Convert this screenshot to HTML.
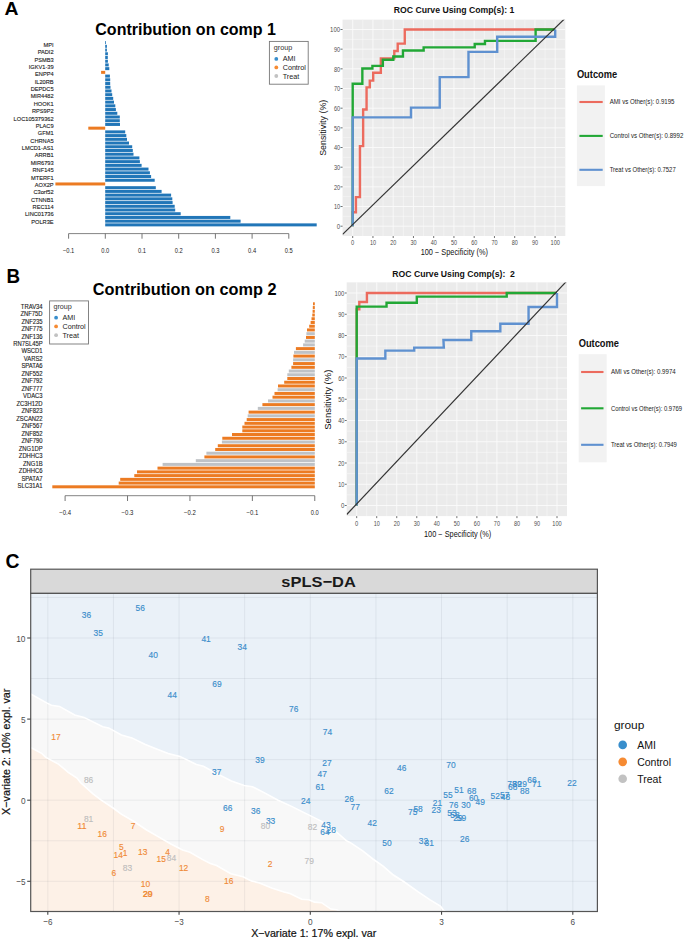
<!DOCTYPE html>
<html><head><meta charset="utf-8"><style>
html,body{margin:0;padding:0;background:#fff;}
svg{display:block;font-family:"Liberation Sans", sans-serif;}
</style></head><body>
<svg width="685" height="941" viewBox="0 0 685 941">
<rect width="685" height="941" fill="#fff"/>
<text x="4.60" y="15.40" font-size="17.5" text-anchor="start" fill="#000" font-weight="bold" textLength="14.00" lengthAdjust="spacingAndGlyphs">A</text>
<text x="6.60" y="283.20" font-size="20.2" text-anchor="start" fill="#000" font-weight="bold" textLength="13.60" lengthAdjust="spacingAndGlyphs">B</text>
<text x="5.50" y="567.80" font-size="19.5" text-anchor="start" fill="#000" font-weight="bold" textLength="14.00" lengthAdjust="spacingAndGlyphs">C</text>
<text x="95.30" y="34.60" font-size="16.9" text-anchor="start" fill="#000" font-weight="bold" textLength="180.70" lengthAdjust="spacingAndGlyphs">Contribution on comp 1</text>
<rect x="105.20" y="41.10" width="0.80" height="3.00" fill="#2176b8"/>
<rect x="105.20" y="44.82" width="1.70" height="3.00" fill="#2176b8"/>
<rect x="105.20" y="48.54" width="1.70" height="3.00" fill="#2176b8"/>
<rect x="105.20" y="52.26" width="2.70" height="3.00" fill="#2176b8"/>
<rect x="105.20" y="55.98" width="2.60" height="3.00" fill="#2176b8"/>
<rect x="105.20" y="59.70" width="2.70" height="3.00" fill="#2176b8"/>
<rect x="105.20" y="63.42" width="3.50" height="3.00" fill="#2176b8"/>
<rect x="105.20" y="67.14" width="4.10" height="3.00" fill="#2176b8"/>
<rect x="101.10" y="70.86" width="4.10" height="3.00" fill="#ec7b22"/>
<rect x="105.20" y="74.58" width="4.70" height="3.00" fill="#2176b8"/>
<rect x="105.20" y="78.30" width="5.00" height="3.00" fill="#2176b8"/>
<rect x="105.20" y="82.02" width="5.00" height="3.00" fill="#2176b8"/>
<rect x="105.20" y="85.74" width="5.30" height="3.00" fill="#2176b8"/>
<rect x="105.20" y="89.46" width="6.30" height="3.00" fill="#2176b8"/>
<rect x="105.20" y="93.18" width="7.00" height="3.00" fill="#2176b8"/>
<rect x="105.20" y="96.90" width="8.00" height="3.00" fill="#2176b8"/>
<rect x="105.20" y="100.62" width="8.80" height="3.00" fill="#2176b8"/>
<rect x="105.20" y="104.34" width="10.10" height="3.00" fill="#2176b8"/>
<rect x="105.20" y="108.06" width="10.70" height="3.00" fill="#2176b8"/>
<rect x="105.20" y="111.78" width="12.10" height="3.00" fill="#2176b8"/>
<rect x="105.20" y="115.50" width="14.60" height="3.00" fill="#2176b8"/>
<rect x="105.20" y="119.22" width="14.60" height="3.00" fill="#2176b8"/>
<rect x="105.20" y="122.94" width="14.80" height="3.00" fill="#2176b8"/>
<rect x="88.30" y="126.66" width="16.90" height="3.00" fill="#ec7b22"/>
<rect x="105.20" y="130.38" width="20.00" height="3.00" fill="#2176b8"/>
<rect x="105.20" y="134.10" width="21.10" height="3.00" fill="#2176b8"/>
<rect x="105.20" y="137.82" width="21.80" height="3.00" fill="#2176b8"/>
<rect x="105.20" y="141.54" width="23.80" height="3.00" fill="#2176b8"/>
<rect x="105.20" y="145.26" width="27.00" height="3.00" fill="#2176b8"/>
<rect x="105.20" y="148.98" width="27.60" height="3.00" fill="#2176b8"/>
<rect x="105.20" y="152.70" width="28.30" height="3.00" fill="#2176b8"/>
<rect x="105.20" y="156.42" width="34.20" height="3.00" fill="#2176b8"/>
<rect x="105.20" y="160.14" width="34.70" height="3.00" fill="#2176b8"/>
<rect x="105.20" y="163.86" width="36.40" height="3.00" fill="#2176b8"/>
<rect x="105.20" y="167.58" width="43.30" height="3.00" fill="#2176b8"/>
<rect x="105.20" y="171.30" width="44.70" height="3.00" fill="#2176b8"/>
<rect x="105.20" y="175.02" width="45.90" height="3.00" fill="#2176b8"/>
<rect x="105.20" y="178.74" width="49.50" height="3.00" fill="#2176b8"/>
<rect x="55.40" y="182.46" width="49.80" height="3.00" fill="#ec7b22"/>
<rect x="105.20" y="186.18" width="50.60" height="3.00" fill="#2176b8"/>
<rect x="105.20" y="189.90" width="56.40" height="3.00" fill="#2176b8"/>
<rect x="105.20" y="193.62" width="65.90" height="3.00" fill="#2176b8"/>
<rect x="105.20" y="197.34" width="67.10" height="3.00" fill="#2176b8"/>
<rect x="105.20" y="201.06" width="67.40" height="3.00" fill="#2176b8"/>
<rect x="105.20" y="204.78" width="69.50" height="3.00" fill="#2176b8"/>
<rect x="105.20" y="208.50" width="70.00" height="3.00" fill="#2176b8"/>
<rect x="105.20" y="212.22" width="75.50" height="3.00" fill="#2176b8"/>
<rect x="105.20" y="215.94" width="125.10" height="3.00" fill="#2176b8"/>
<rect x="105.20" y="219.66" width="135.40" height="3.00" fill="#2176b8"/>
<rect x="105.20" y="223.38" width="211.50" height="3.00" fill="#2176b8"/>
<g transform="translate(53.6 0) scale(0.93 1) translate(-53.6 0)" stroke="#1a1a1a" stroke-width="0.12">
<text x="53.60" y="46.85" font-size="6.1" text-anchor="end" fill="#1a1a1a">MPI</text>
<text x="53.60" y="54.23" font-size="6.1" text-anchor="end" fill="#1a1a1a">PADI2</text>
<text x="53.60" y="61.60" font-size="6.1" text-anchor="end" fill="#1a1a1a">PSMB3</text>
<text x="53.60" y="68.98" font-size="6.1" text-anchor="end" fill="#1a1a1a">IGKV1-39</text>
<text x="53.60" y="76.35" font-size="6.1" text-anchor="end" fill="#1a1a1a">ENPP4</text>
<text x="53.60" y="83.73" font-size="6.1" text-anchor="end" fill="#1a1a1a">IL20RB</text>
<text x="53.60" y="91.10" font-size="6.1" text-anchor="end" fill="#1a1a1a">DEPDC5</text>
<text x="53.60" y="98.48" font-size="6.1" text-anchor="end" fill="#1a1a1a">MIR4482</text>
<text x="53.60" y="105.85" font-size="6.1" text-anchor="end" fill="#1a1a1a">HOOK1</text>
<text x="53.60" y="113.23" font-size="6.1" text-anchor="end" fill="#1a1a1a">RPS9P2</text>
<text x="53.60" y="120.60" font-size="6.1" text-anchor="end" fill="#1a1a1a">LOC105379362</text>
<text x="53.60" y="127.98" font-size="6.1" text-anchor="end" fill="#1a1a1a">PLAC9</text>
<text x="53.60" y="135.35" font-size="6.1" text-anchor="end" fill="#1a1a1a">GFM1</text>
<text x="53.60" y="142.72" font-size="6.1" text-anchor="end" fill="#1a1a1a">CHRNA5</text>
<text x="53.60" y="150.10" font-size="6.1" text-anchor="end" fill="#1a1a1a">LMCD1-AS1</text>
<text x="53.60" y="157.47" font-size="6.1" text-anchor="end" fill="#1a1a1a">ARRB1</text>
<text x="53.60" y="164.85" font-size="6.1" text-anchor="end" fill="#1a1a1a">MIR6793</text>
<text x="53.60" y="172.22" font-size="6.1" text-anchor="end" fill="#1a1a1a">RNF145</text>
<text x="53.60" y="179.60" font-size="6.1" text-anchor="end" fill="#1a1a1a">MTERF1</text>
<text x="53.60" y="186.97" font-size="6.1" text-anchor="end" fill="#1a1a1a">AOX2P</text>
<text x="53.60" y="194.35" font-size="6.1" text-anchor="end" fill="#1a1a1a">C3orf52</text>
<text x="53.60" y="201.72" font-size="6.1" text-anchor="end" fill="#1a1a1a">CTNNB1</text>
<text x="53.60" y="209.10" font-size="6.1" text-anchor="end" fill="#1a1a1a">REC114</text>
<text x="53.60" y="216.47" font-size="6.1" text-anchor="end" fill="#1a1a1a">LINC01736</text>
<text x="53.60" y="223.85" font-size="6.1" text-anchor="end" fill="#1a1a1a">POLR3E</text>
</g>
<line x1="68.60" y1="233.60" x2="288.80" y2="233.60" stroke="#777" stroke-width="0.9"/>
<line x1="68.60" y1="233.60" x2="68.60" y2="238.70" stroke="#666" stroke-width="0.9"/>
<text x="68.60" y="253.20" font-size="6.4" text-anchor="middle" fill="#222" textLength="11.40" lengthAdjust="spacingAndGlyphs">−0.1</text>
<line x1="105.30" y1="233.60" x2="105.30" y2="238.70" stroke="#666" stroke-width="0.9"/>
<text x="105.30" y="253.20" font-size="6.4" text-anchor="middle" fill="#222" textLength="8.00" lengthAdjust="spacingAndGlyphs">0.0</text>
<line x1="142.00" y1="233.60" x2="142.00" y2="238.70" stroke="#666" stroke-width="0.9"/>
<text x="142.00" y="253.20" font-size="6.4" text-anchor="middle" fill="#222" textLength="8.00" lengthAdjust="spacingAndGlyphs">0.1</text>
<line x1="178.70" y1="233.60" x2="178.70" y2="238.70" stroke="#666" stroke-width="0.9"/>
<text x="178.70" y="253.20" font-size="6.4" text-anchor="middle" fill="#222" textLength="8.00" lengthAdjust="spacingAndGlyphs">0.2</text>
<line x1="215.40" y1="233.60" x2="215.40" y2="238.70" stroke="#666" stroke-width="0.9"/>
<text x="215.40" y="253.20" font-size="6.4" text-anchor="middle" fill="#222" textLength="8.00" lengthAdjust="spacingAndGlyphs">0.3</text>
<line x1="252.10" y1="233.60" x2="252.10" y2="238.70" stroke="#666" stroke-width="0.9"/>
<text x="252.10" y="253.20" font-size="6.4" text-anchor="middle" fill="#222" textLength="8.00" lengthAdjust="spacingAndGlyphs">0.4</text>
<line x1="288.80" y1="233.60" x2="288.80" y2="238.70" stroke="#666" stroke-width="0.9"/>
<text x="288.80" y="253.20" font-size="6.4" text-anchor="middle" fill="#222" textLength="8.00" lengthAdjust="spacingAndGlyphs">0.5</text>
<rect x="269.40" y="41.40" width="38.80" height="42.80" fill="#fff" stroke="#777" stroke-width="0.9"/>
<text x="273.80" y="50.40" font-size="7.2" text-anchor="start" fill="#333">group</text>
<circle cx="276.3" cy="58.90" r="1.9" fill="#388ECC"/>
<text x="282.70" y="61.40" font-size="7.2" text-anchor="start" fill="#222">AMI</text>
<circle cx="276.3" cy="67.45" r="1.9" fill="#F68B33"/>
<text x="282.70" y="69.95" font-size="7.2" text-anchor="start" fill="#222">Control</text>
<circle cx="276.3" cy="76.00" r="1.9" fill="#C2C2C2"/>
<text x="282.70" y="78.50" font-size="7.2" text-anchor="start" fill="#222">Treat</text>
<text x="92.80" y="295.00" font-size="16.9" text-anchor="start" fill="#000" font-weight="bold" textLength="183.70" lengthAdjust="spacingAndGlyphs">Contribution on comp 2</text>
<rect x="313.00" y="302.30" width="1.80" height="3.00" fill="#ec7b22"/>
<rect x="312.80" y="306.04" width="2.00" height="3.00" fill="#ec7b22"/>
<rect x="312.60" y="309.77" width="2.20" height="3.00" fill="#ec7b22"/>
<rect x="312.30" y="313.50" width="2.50" height="3.00" fill="#ec7b22"/>
<rect x="311.50" y="317.24" width="3.30" height="3.00" fill="#ec7b22"/>
<rect x="310.60" y="320.98" width="4.20" height="3.00" fill="#ec7b22"/>
<rect x="309.20" y="324.71" width="5.60" height="3.00" fill="#ec7b22"/>
<rect x="307.00" y="328.44" width="7.80" height="3.00" fill="#ec7b22"/>
<rect x="306.40" y="332.18" width="8.40" height="3.00" fill="#bfc2c6"/>
<rect x="306.00" y="335.92" width="8.80" height="3.00" fill="#ec7b22"/>
<rect x="304.70" y="339.65" width="10.10" height="3.00" fill="#bfc2c6"/>
<rect x="303.10" y="343.38" width="11.70" height="3.00" fill="#bfc2c6"/>
<rect x="295.90" y="347.12" width="18.90" height="3.00" fill="#ec7b22"/>
<rect x="294.00" y="350.86" width="20.80" height="3.00" fill="#bfc2c6"/>
<rect x="293.40" y="354.59" width="21.40" height="3.00" fill="#ec7b22"/>
<rect x="293.10" y="358.32" width="21.70" height="3.00" fill="#bfc2c6"/>
<rect x="293.10" y="362.06" width="21.70" height="3.00" fill="#ec7b22"/>
<rect x="291.40" y="365.80" width="23.40" height="3.00" fill="#ec7b22"/>
<rect x="288.80" y="369.53" width="26.00" height="3.00" fill="#bfc2c6"/>
<rect x="287.30" y="373.26" width="27.50" height="3.00" fill="#bfc2c6"/>
<rect x="287.30" y="377.00" width="27.50" height="3.00" fill="#ec7b22"/>
<rect x="284.20" y="380.74" width="30.60" height="3.00" fill="#ec7b22"/>
<rect x="278.00" y="384.47" width="36.80" height="3.00" fill="#ec7b22"/>
<rect x="277.60" y="388.21" width="37.20" height="3.00" fill="#bfc2c6"/>
<rect x="274.50" y="391.94" width="40.30" height="3.00" fill="#ec7b22"/>
<rect x="272.50" y="395.68" width="42.30" height="3.00" fill="#ec7b22"/>
<rect x="268.00" y="399.41" width="46.80" height="3.00" fill="#bfc2c6"/>
<rect x="262.40" y="403.14" width="52.40" height="3.00" fill="#ec7b22"/>
<rect x="257.80" y="406.88" width="57.00" height="3.00" fill="#bfc2c6"/>
<rect x="248.60" y="410.62" width="66.20" height="3.00" fill="#ec7b22"/>
<rect x="247.70" y="414.35" width="67.10" height="3.00" fill="#bfc2c6"/>
<rect x="246.70" y="418.09" width="68.10" height="3.00" fill="#ec7b22"/>
<rect x="244.50" y="421.82" width="70.30" height="3.00" fill="#ec7b22"/>
<rect x="242.30" y="425.56" width="72.50" height="3.00" fill="#ec7b22"/>
<rect x="242.30" y="429.29" width="72.50" height="3.00" fill="#ec7b22"/>
<rect x="232.00" y="433.02" width="82.80" height="3.00" fill="#ec7b22"/>
<rect x="222.30" y="436.76" width="92.50" height="3.00" fill="#ec7b22"/>
<rect x="221.90" y="440.50" width="92.90" height="3.00" fill="#bfc2c6"/>
<rect x="217.80" y="444.23" width="97.00" height="3.00" fill="#ec7b22"/>
<rect x="215.20" y="447.97" width="99.60" height="3.00" fill="#ec7b22"/>
<rect x="206.40" y="451.70" width="108.40" height="3.00" fill="#bfc2c6"/>
<rect x="204.40" y="455.44" width="110.40" height="3.00" fill="#ec7b22"/>
<rect x="195.80" y="459.17" width="119.00" height="3.00" fill="#bfc2c6"/>
<rect x="162.60" y="462.90" width="152.20" height="3.00" fill="#bfc2c6"/>
<rect x="157.50" y="466.64" width="157.30" height="3.00" fill="#ec7b22"/>
<rect x="137.00" y="470.38" width="177.80" height="3.00" fill="#ec7b22"/>
<rect x="134.30" y="474.11" width="180.50" height="3.00" fill="#ec7b22"/>
<rect x="120.20" y="477.85" width="194.60" height="3.00" fill="#ec7b22"/>
<rect x="118.70" y="481.58" width="196.10" height="3.00" fill="#ec7b22"/>
<rect x="52.30" y="485.31" width="262.50" height="3.00" fill="#ec7b22"/>
<g transform="translate(42.6 0) scale(0.92 1) translate(-42.6 0)" stroke="#1a1a1a" stroke-width="0.12">
<text x="42.60" y="308.55" font-size="6.4" text-anchor="end" fill="#1a1a1a">TRAV34</text>
<text x="42.60" y="316.04" font-size="6.4" text-anchor="end" fill="#1a1a1a">ZNF75D</text>
<text x="42.60" y="323.53" font-size="6.4" text-anchor="end" fill="#1a1a1a">ZNF235</text>
<text x="42.60" y="331.02" font-size="6.4" text-anchor="end" fill="#1a1a1a">ZNF775</text>
<text x="42.60" y="338.51" font-size="6.4" text-anchor="end" fill="#1a1a1a">ZNF136</text>
<text x="42.60" y="346.00" font-size="6.4" text-anchor="end" fill="#1a1a1a">RN7SL45P</text>
<text x="42.60" y="353.49" font-size="6.4" text-anchor="end" fill="#1a1a1a">WSCD1</text>
<text x="42.60" y="360.98" font-size="6.4" text-anchor="end" fill="#1a1a1a">VARS2</text>
<text x="42.60" y="368.47" font-size="6.4" text-anchor="end" fill="#1a1a1a">SPATA6</text>
<text x="42.60" y="375.96" font-size="6.4" text-anchor="end" fill="#1a1a1a">ZNF552</text>
<text x="42.60" y="383.45" font-size="6.4" text-anchor="end" fill="#1a1a1a">ZNF792</text>
<text x="42.60" y="390.94" font-size="6.4" text-anchor="end" fill="#1a1a1a">ZNF777</text>
<text x="42.60" y="398.43" font-size="6.4" text-anchor="end" fill="#1a1a1a">VDAC3</text>
<text x="42.60" y="405.92" font-size="6.4" text-anchor="end" fill="#1a1a1a">ZC3H12D</text>
<text x="42.60" y="413.41" font-size="6.4" text-anchor="end" fill="#1a1a1a">ZNF823</text>
<text x="42.60" y="420.90" font-size="6.4" text-anchor="end" fill="#1a1a1a">ZSCAN22</text>
<text x="42.60" y="428.39" font-size="6.4" text-anchor="end" fill="#1a1a1a">ZNF567</text>
<text x="42.60" y="435.88" font-size="6.4" text-anchor="end" fill="#1a1a1a">ZNF852</text>
<text x="42.60" y="443.37" font-size="6.4" text-anchor="end" fill="#1a1a1a">ZNF790</text>
<text x="42.60" y="450.86" font-size="6.4" text-anchor="end" fill="#1a1a1a">ZNG1DP</text>
<text x="42.60" y="458.35" font-size="6.4" text-anchor="end" fill="#1a1a1a">ZDHHC3</text>
<text x="42.60" y="465.84" font-size="6.4" text-anchor="end" fill="#1a1a1a">ZNG1B</text>
<text x="42.60" y="473.33" font-size="6.4" text-anchor="end" fill="#1a1a1a">ZDHHC6</text>
<text x="42.60" y="480.82" font-size="6.4" text-anchor="end" fill="#1a1a1a">SPATA7</text>
<text x="42.60" y="488.31" font-size="6.4" text-anchor="end" fill="#1a1a1a">SLC31A1</text>
</g>
<line x1="65.10" y1="495.70" x2="314.80" y2="495.70" stroke="#777" stroke-width="0.9"/>
<line x1="65.10" y1="495.70" x2="65.10" y2="501.00" stroke="#666" stroke-width="0.9"/>
<text x="65.10" y="515.30" font-size="6.4" text-anchor="middle" fill="#222" textLength="11.80" lengthAdjust="spacingAndGlyphs">−0.4</text>
<line x1="127.52" y1="495.70" x2="127.52" y2="501.00" stroke="#666" stroke-width="0.9"/>
<text x="127.52" y="515.30" font-size="6.4" text-anchor="middle" fill="#222" textLength="11.80" lengthAdjust="spacingAndGlyphs">−0.3</text>
<line x1="189.94" y1="495.70" x2="189.94" y2="501.00" stroke="#666" stroke-width="0.9"/>
<text x="189.94" y="515.30" font-size="6.4" text-anchor="middle" fill="#222" textLength="11.80" lengthAdjust="spacingAndGlyphs">−0.2</text>
<line x1="252.36" y1="495.70" x2="252.36" y2="501.00" stroke="#666" stroke-width="0.9"/>
<text x="252.36" y="515.30" font-size="6.4" text-anchor="middle" fill="#222" textLength="11.80" lengthAdjust="spacingAndGlyphs">−0.1</text>
<line x1="314.78" y1="495.70" x2="314.78" y2="501.00" stroke="#666" stroke-width="0.9"/>
<text x="314.78" y="515.30" font-size="6.4" text-anchor="middle" fill="#222" textLength="8.00" lengthAdjust="spacingAndGlyphs">0.0</text>
<rect x="49.60" y="300.90" width="38.90" height="43.10" fill="#fff" stroke="#777" stroke-width="0.9"/>
<text x="53.40" y="309.30" font-size="7.2" text-anchor="start" fill="#333">group</text>
<circle cx="56.1" cy="317.70" r="1.9" fill="#388ECC"/>
<text x="62.50" y="320.20" font-size="7.2" text-anchor="start" fill="#222">AMI</text>
<circle cx="56.1" cy="326.45" r="1.9" fill="#F68B33"/>
<text x="62.50" y="328.95" font-size="7.2" text-anchor="start" fill="#222">Control</text>
<circle cx="56.1" cy="335.20" r="1.9" fill="#C2C2C2"/>
<text x="62.50" y="337.70" font-size="7.2" text-anchor="start" fill="#222">Treat</text>
<clipPath id="clip226"><rect x="342.57" y="19.66" width="222.75" height="216.37"/></clipPath>
<rect x="342.57" y="19.66" width="222.75" height="216.37" fill="#EBEBEB"/>
<line x1="362.82" y1="19.66" x2="362.82" y2="236.03" stroke="#fafafa" stroke-width="0.5"/>
<line x1="342.57" y1="216.36" x2="565.33" y2="216.36" stroke="#fafafa" stroke-width="0.5"/>
<line x1="383.07" y1="19.66" x2="383.07" y2="236.03" stroke="#fafafa" stroke-width="0.5"/>
<line x1="342.57" y1="196.69" x2="565.33" y2="196.69" stroke="#fafafa" stroke-width="0.5"/>
<line x1="403.32" y1="19.66" x2="403.32" y2="236.03" stroke="#fafafa" stroke-width="0.5"/>
<line x1="342.57" y1="177.02" x2="565.33" y2="177.02" stroke="#fafafa" stroke-width="0.5"/>
<line x1="423.57" y1="19.66" x2="423.57" y2="236.03" stroke="#fafafa" stroke-width="0.5"/>
<line x1="342.57" y1="157.35" x2="565.33" y2="157.35" stroke="#fafafa" stroke-width="0.5"/>
<line x1="443.82" y1="19.66" x2="443.82" y2="236.03" stroke="#fafafa" stroke-width="0.5"/>
<line x1="342.57" y1="137.69" x2="565.33" y2="137.69" stroke="#fafafa" stroke-width="0.5"/>
<line x1="464.07" y1="19.66" x2="464.07" y2="236.03" stroke="#fafafa" stroke-width="0.5"/>
<line x1="342.57" y1="118.01" x2="565.33" y2="118.01" stroke="#fafafa" stroke-width="0.5"/>
<line x1="484.32" y1="19.66" x2="484.32" y2="236.03" stroke="#fafafa" stroke-width="0.5"/>
<line x1="342.57" y1="98.34" x2="565.33" y2="98.34" stroke="#fafafa" stroke-width="0.5"/>
<line x1="504.57" y1="19.66" x2="504.57" y2="236.03" stroke="#fafafa" stroke-width="0.5"/>
<line x1="342.57" y1="78.67" x2="565.33" y2="78.67" stroke="#fafafa" stroke-width="0.5"/>
<line x1="524.83" y1="19.66" x2="524.83" y2="236.03" stroke="#fafafa" stroke-width="0.5"/>
<line x1="342.57" y1="59.00" x2="565.33" y2="59.00" stroke="#fafafa" stroke-width="0.5"/>
<line x1="545.08" y1="19.66" x2="545.08" y2="236.03" stroke="#fafafa" stroke-width="0.5"/>
<line x1="342.57" y1="39.33" x2="565.33" y2="39.33" stroke="#fafafa" stroke-width="0.5"/>
<line x1="352.70" y1="19.66" x2="352.70" y2="236.03" stroke="#fafafa" stroke-width="0.9"/>
<line x1="342.57" y1="226.20" x2="565.33" y2="226.20" stroke="#fafafa" stroke-width="0.9"/>
<line x1="372.95" y1="19.66" x2="372.95" y2="236.03" stroke="#fafafa" stroke-width="0.9"/>
<line x1="342.57" y1="206.53" x2="565.33" y2="206.53" stroke="#fafafa" stroke-width="0.9"/>
<line x1="393.20" y1="19.66" x2="393.20" y2="236.03" stroke="#fafafa" stroke-width="0.9"/>
<line x1="342.57" y1="186.86" x2="565.33" y2="186.86" stroke="#fafafa" stroke-width="0.9"/>
<line x1="413.45" y1="19.66" x2="413.45" y2="236.03" stroke="#fafafa" stroke-width="0.9"/>
<line x1="342.57" y1="167.19" x2="565.33" y2="167.19" stroke="#fafafa" stroke-width="0.9"/>
<line x1="433.70" y1="19.66" x2="433.70" y2="236.03" stroke="#fafafa" stroke-width="0.9"/>
<line x1="342.57" y1="147.52" x2="565.33" y2="147.52" stroke="#fafafa" stroke-width="0.9"/>
<line x1="453.95" y1="19.66" x2="453.95" y2="236.03" stroke="#fafafa" stroke-width="0.9"/>
<line x1="342.57" y1="127.85" x2="565.33" y2="127.85" stroke="#fafafa" stroke-width="0.9"/>
<line x1="474.20" y1="19.66" x2="474.20" y2="236.03" stroke="#fafafa" stroke-width="0.9"/>
<line x1="342.57" y1="108.18" x2="565.33" y2="108.18" stroke="#fafafa" stroke-width="0.9"/>
<line x1="494.45" y1="19.66" x2="494.45" y2="236.03" stroke="#fafafa" stroke-width="0.9"/>
<line x1="342.57" y1="88.51" x2="565.33" y2="88.51" stroke="#fafafa" stroke-width="0.9"/>
<line x1="514.70" y1="19.66" x2="514.70" y2="236.03" stroke="#fafafa" stroke-width="0.9"/>
<line x1="342.57" y1="68.84" x2="565.33" y2="68.84" stroke="#fafafa" stroke-width="0.9"/>
<line x1="534.95" y1="19.66" x2="534.95" y2="236.03" stroke="#fafafa" stroke-width="0.9"/>
<line x1="342.57" y1="49.17" x2="565.33" y2="49.17" stroke="#fafafa" stroke-width="0.9"/>
<line x1="555.20" y1="19.66" x2="555.20" y2="236.03" stroke="#fafafa" stroke-width="0.9"/>
<line x1="342.57" y1="29.50" x2="565.33" y2="29.50" stroke="#fafafa" stroke-width="0.9"/>
<g clip-path="url(#clip226)" fill="none" stroke-linejoin="miter">
<path d="M352.70,226.20 L352.70,212.23 L355.92,212.23 L355.92,197.09 L359.94,197.09 L359.94,146.14 L363.15,146.14 L363.15,109.56 L366.57,109.56 L366.57,87.33 L369.78,87.33 L369.78,80.64 L373.20,80.64 L373.20,72.77 L380.84,72.77 L380.84,58.41 L394.31,58.41 L394.31,50.94 L397.72,50.94 L397.72,43.66 L404.76,43.66 L404.76,29.50 L555.20,29.50" stroke="#EC6B5E" stroke-width="2.4"/>
<path d="M352.70,226.20 L352.70,83.79 L362.35,83.79 L362.35,68.45 L372.40,68.45 L372.40,65.89 L382.85,65.89 L382.85,59.79 L393.30,59.79 L393.30,56.45 L402.95,56.45 L402.95,50.55 L423.65,50.55 L423.65,47.40 L474.71,47.40 L474.71,44.06 L484.96,44.06 L484.96,40.91 L535.61,40.91 L535.61,29.50 L555.20,29.50" stroke="#22A836" stroke-width="2.4"/>
<path d="M352.70,226.20 L352.70,117.42 L410.99,117.42 L410.99,107.59 L439.73,107.59 L439.73,77.10 L468.48,77.10 L468.48,51.92 L497.22,51.92 L497.22,36.78 L555.20,36.78 L555.20,29.50" stroke="#5F91D0" stroke-width="2.4"/>
<line x1="342.57" y1="234.44" x2="565.33" y2="18.06" stroke="#333" stroke-width="1.2"/>
</g>
<line x1="340.50" y1="226.20" x2="342.57" y2="226.20" stroke="#333" stroke-width="0.7"/>
<text x="340.10" y="228.90" font-size="7.6" text-anchor="end" fill="#4d4d4d" textLength="3.40" lengthAdjust="spacingAndGlyphs">0</text>
<line x1="352.70" y1="236.03" x2="352.70" y2="238.03" stroke="#333" stroke-width="0.7"/>
<text x="352.70" y="245.40" font-size="7.6" text-anchor="middle" fill="#4d4d4d" textLength="3.20" lengthAdjust="spacingAndGlyphs">0</text>
<line x1="340.50" y1="206.53" x2="342.57" y2="206.53" stroke="#333" stroke-width="0.7"/>
<text x="340.10" y="209.23" font-size="7.6" text-anchor="end" fill="#4d4d4d" textLength="6.20" lengthAdjust="spacingAndGlyphs">10</text>
<line x1="372.95" y1="236.03" x2="372.95" y2="238.03" stroke="#333" stroke-width="0.7"/>
<text x="372.95" y="245.40" font-size="7.6" text-anchor="middle" fill="#4d4d4d" textLength="6.10" lengthAdjust="spacingAndGlyphs">10</text>
<line x1="340.50" y1="186.86" x2="342.57" y2="186.86" stroke="#333" stroke-width="0.7"/>
<text x="340.10" y="189.56" font-size="7.6" text-anchor="end" fill="#4d4d4d" textLength="6.20" lengthAdjust="spacingAndGlyphs">20</text>
<line x1="393.20" y1="236.03" x2="393.20" y2="238.03" stroke="#333" stroke-width="0.7"/>
<text x="393.20" y="245.40" font-size="7.6" text-anchor="middle" fill="#4d4d4d" textLength="6.10" lengthAdjust="spacingAndGlyphs">20</text>
<line x1="340.50" y1="167.19" x2="342.57" y2="167.19" stroke="#333" stroke-width="0.7"/>
<text x="340.10" y="169.89" font-size="7.6" text-anchor="end" fill="#4d4d4d" textLength="6.20" lengthAdjust="spacingAndGlyphs">30</text>
<line x1="413.45" y1="236.03" x2="413.45" y2="238.03" stroke="#333" stroke-width="0.7"/>
<text x="413.45" y="245.40" font-size="7.6" text-anchor="middle" fill="#4d4d4d" textLength="6.10" lengthAdjust="spacingAndGlyphs">30</text>
<line x1="340.50" y1="147.52" x2="342.57" y2="147.52" stroke="#333" stroke-width="0.7"/>
<text x="340.10" y="150.22" font-size="7.6" text-anchor="end" fill="#4d4d4d" textLength="6.20" lengthAdjust="spacingAndGlyphs">40</text>
<line x1="433.70" y1="236.03" x2="433.70" y2="238.03" stroke="#333" stroke-width="0.7"/>
<text x="433.70" y="245.40" font-size="7.6" text-anchor="middle" fill="#4d4d4d" textLength="6.10" lengthAdjust="spacingAndGlyphs">40</text>
<line x1="340.50" y1="127.85" x2="342.57" y2="127.85" stroke="#333" stroke-width="0.7"/>
<text x="340.10" y="130.55" font-size="7.6" text-anchor="end" fill="#4d4d4d" textLength="6.20" lengthAdjust="spacingAndGlyphs">50</text>
<line x1="453.95" y1="236.03" x2="453.95" y2="238.03" stroke="#333" stroke-width="0.7"/>
<text x="453.95" y="245.40" font-size="7.6" text-anchor="middle" fill="#4d4d4d" textLength="6.10" lengthAdjust="spacingAndGlyphs">50</text>
<line x1="340.50" y1="108.18" x2="342.57" y2="108.18" stroke="#333" stroke-width="0.7"/>
<text x="340.10" y="110.88" font-size="7.6" text-anchor="end" fill="#4d4d4d" textLength="6.20" lengthAdjust="spacingAndGlyphs">60</text>
<line x1="474.20" y1="236.03" x2="474.20" y2="238.03" stroke="#333" stroke-width="0.7"/>
<text x="474.20" y="245.40" font-size="7.6" text-anchor="middle" fill="#4d4d4d" textLength="6.10" lengthAdjust="spacingAndGlyphs">60</text>
<line x1="340.50" y1="88.51" x2="342.57" y2="88.51" stroke="#333" stroke-width="0.7"/>
<text x="340.10" y="91.21" font-size="7.6" text-anchor="end" fill="#4d4d4d" textLength="6.20" lengthAdjust="spacingAndGlyphs">70</text>
<line x1="494.45" y1="236.03" x2="494.45" y2="238.03" stroke="#333" stroke-width="0.7"/>
<text x="494.45" y="245.40" font-size="7.6" text-anchor="middle" fill="#4d4d4d" textLength="6.10" lengthAdjust="spacingAndGlyphs">70</text>
<line x1="340.50" y1="68.84" x2="342.57" y2="68.84" stroke="#333" stroke-width="0.7"/>
<text x="340.10" y="71.54" font-size="7.6" text-anchor="end" fill="#4d4d4d" textLength="6.20" lengthAdjust="spacingAndGlyphs">80</text>
<line x1="514.70" y1="236.03" x2="514.70" y2="238.03" stroke="#333" stroke-width="0.7"/>
<text x="514.70" y="245.40" font-size="7.6" text-anchor="middle" fill="#4d4d4d" textLength="6.10" lengthAdjust="spacingAndGlyphs">80</text>
<line x1="340.50" y1="49.17" x2="342.57" y2="49.17" stroke="#333" stroke-width="0.7"/>
<text x="340.10" y="51.87" font-size="7.6" text-anchor="end" fill="#4d4d4d" textLength="6.20" lengthAdjust="spacingAndGlyphs">90</text>
<line x1="534.95" y1="236.03" x2="534.95" y2="238.03" stroke="#333" stroke-width="0.7"/>
<text x="534.95" y="245.40" font-size="7.6" text-anchor="middle" fill="#4d4d4d" textLength="6.10" lengthAdjust="spacingAndGlyphs">90</text>
<line x1="340.50" y1="29.50" x2="342.57" y2="29.50" stroke="#333" stroke-width="0.7"/>
<text x="340.10" y="32.20" font-size="7.6" text-anchor="end" fill="#4d4d4d" textLength="10.00" lengthAdjust="spacingAndGlyphs">100</text>
<line x1="555.20" y1="236.03" x2="555.20" y2="238.03" stroke="#333" stroke-width="0.7"/>
<text x="555.20" y="245.40" font-size="7.6" text-anchor="middle" fill="#4d4d4d" textLength="9.40" lengthAdjust="spacingAndGlyphs">100</text>
<text x="393.70" y="13.10" font-size="9.4" text-anchor="start" fill="#111" font-weight="bold" textLength="120.60" lengthAdjust="spacingAndGlyphs">ROC Curve Using Comp(s): 1</text>
<text x="420.70" y="255.30" font-size="8.3" text-anchor="start" fill="#111" textLength="67.20" lengthAdjust="spacingAndGlyphs">100 − Specificity (%)</text>
<text x="326.00" y="127.80" font-size="8.3" text-anchor="middle" fill="#111" textLength="56.00" lengthAdjust="spacingAndGlyphs" transform="rotate(-90 326.00 127.80)">Sensitivity (%)</text>
<text x="576.90" y="78.40" font-size="10.0" text-anchor="start" fill="#111" font-weight="bold" textLength="40.30" lengthAdjust="spacingAndGlyphs">Outcome</text>
<rect x="576.90" y="85.40" width="28.00" height="100.70" fill="#F2F2F2"/>
<line x1="579.40" y1="102.00" x2="602.70" y2="102.00" stroke="#EC6B5E" stroke-width="2.1"/>
<text x="609.70" y="104.20" font-size="6.6" text-anchor="start" fill="#222" textLength="64.80" lengthAdjust="spacingAndGlyphs">AMI vs Other(s): 0.9195</text>
<line x1="579.40" y1="135.90" x2="602.70" y2="135.90" stroke="#22A836" stroke-width="2.1"/>
<text x="609.70" y="138.10" font-size="6.6" text-anchor="start" fill="#222" textLength="73.60" lengthAdjust="spacingAndGlyphs">Control vs Other(s): 0.8992</text>
<line x1="579.40" y1="169.80" x2="602.70" y2="169.80" stroke="#5F91D0" stroke-width="2.1"/>
<text x="609.70" y="172.00" font-size="6.6" text-anchor="start" fill="#222" textLength="66.00" lengthAdjust="spacingAndGlyphs">Treat vs Other(s): 0.7527</text>
<clipPath id="clip505"><rect x="346.69" y="282.38" width="220.33" height="233.75"/></clipPath>
<rect x="346.69" y="282.38" width="220.33" height="233.75" fill="#EBEBEB"/>
<line x1="366.71" y1="282.38" x2="366.71" y2="516.12" stroke="#fafafa" stroke-width="0.5"/>
<line x1="346.69" y1="494.88" x2="567.01" y2="494.88" stroke="#fafafa" stroke-width="0.5"/>
<line x1="386.75" y1="282.38" x2="386.75" y2="516.12" stroke="#fafafa" stroke-width="0.5"/>
<line x1="346.69" y1="473.62" x2="567.01" y2="473.62" stroke="#fafafa" stroke-width="0.5"/>
<line x1="406.77" y1="282.38" x2="406.77" y2="516.12" stroke="#fafafa" stroke-width="0.5"/>
<line x1="346.69" y1="452.38" x2="567.01" y2="452.38" stroke="#fafafa" stroke-width="0.5"/>
<line x1="426.81" y1="282.38" x2="426.81" y2="516.12" stroke="#fafafa" stroke-width="0.5"/>
<line x1="346.69" y1="431.12" x2="567.01" y2="431.12" stroke="#fafafa" stroke-width="0.5"/>
<line x1="446.83" y1="282.38" x2="446.83" y2="516.12" stroke="#fafafa" stroke-width="0.5"/>
<line x1="346.69" y1="409.88" x2="567.01" y2="409.88" stroke="#fafafa" stroke-width="0.5"/>
<line x1="466.87" y1="282.38" x2="466.87" y2="516.12" stroke="#fafafa" stroke-width="0.5"/>
<line x1="346.69" y1="388.62" x2="567.01" y2="388.62" stroke="#fafafa" stroke-width="0.5"/>
<line x1="486.89" y1="282.38" x2="486.89" y2="516.12" stroke="#fafafa" stroke-width="0.5"/>
<line x1="346.69" y1="367.38" x2="567.01" y2="367.38" stroke="#fafafa" stroke-width="0.5"/>
<line x1="506.93" y1="282.38" x2="506.93" y2="516.12" stroke="#fafafa" stroke-width="0.5"/>
<line x1="346.69" y1="346.12" x2="567.01" y2="346.12" stroke="#fafafa" stroke-width="0.5"/>
<line x1="526.95" y1="282.38" x2="526.95" y2="516.12" stroke="#fafafa" stroke-width="0.5"/>
<line x1="346.69" y1="324.88" x2="567.01" y2="324.88" stroke="#fafafa" stroke-width="0.5"/>
<line x1="546.99" y1="282.38" x2="546.99" y2="516.12" stroke="#fafafa" stroke-width="0.5"/>
<line x1="346.69" y1="303.62" x2="567.01" y2="303.62" stroke="#fafafa" stroke-width="0.5"/>
<line x1="356.70" y1="282.38" x2="356.70" y2="516.12" stroke="#fafafa" stroke-width="0.9"/>
<line x1="346.69" y1="505.50" x2="567.01" y2="505.50" stroke="#fafafa" stroke-width="0.9"/>
<line x1="376.73" y1="282.38" x2="376.73" y2="516.12" stroke="#fafafa" stroke-width="0.9"/>
<line x1="346.69" y1="484.25" x2="567.01" y2="484.25" stroke="#fafafa" stroke-width="0.9"/>
<line x1="396.76" y1="282.38" x2="396.76" y2="516.12" stroke="#fafafa" stroke-width="0.9"/>
<line x1="346.69" y1="463.00" x2="567.01" y2="463.00" stroke="#fafafa" stroke-width="0.9"/>
<line x1="416.79" y1="282.38" x2="416.79" y2="516.12" stroke="#fafafa" stroke-width="0.9"/>
<line x1="346.69" y1="441.75" x2="567.01" y2="441.75" stroke="#fafafa" stroke-width="0.9"/>
<line x1="436.82" y1="282.38" x2="436.82" y2="516.12" stroke="#fafafa" stroke-width="0.9"/>
<line x1="346.69" y1="420.50" x2="567.01" y2="420.50" stroke="#fafafa" stroke-width="0.9"/>
<line x1="456.85" y1="282.38" x2="456.85" y2="516.12" stroke="#fafafa" stroke-width="0.9"/>
<line x1="346.69" y1="399.25" x2="567.01" y2="399.25" stroke="#fafafa" stroke-width="0.9"/>
<line x1="476.88" y1="282.38" x2="476.88" y2="516.12" stroke="#fafafa" stroke-width="0.9"/>
<line x1="346.69" y1="378.00" x2="567.01" y2="378.00" stroke="#fafafa" stroke-width="0.9"/>
<line x1="496.91" y1="282.38" x2="496.91" y2="516.12" stroke="#fafafa" stroke-width="0.9"/>
<line x1="346.69" y1="356.75" x2="567.01" y2="356.75" stroke="#fafafa" stroke-width="0.9"/>
<line x1="516.94" y1="282.38" x2="516.94" y2="516.12" stroke="#fafafa" stroke-width="0.9"/>
<line x1="346.69" y1="335.50" x2="567.01" y2="335.50" stroke="#fafafa" stroke-width="0.9"/>
<line x1="536.97" y1="282.38" x2="536.97" y2="516.12" stroke="#fafafa" stroke-width="0.9"/>
<line x1="346.69" y1="314.25" x2="567.01" y2="314.25" stroke="#fafafa" stroke-width="0.9"/>
<line x1="557.00" y1="282.38" x2="557.00" y2="516.12" stroke="#fafafa" stroke-width="0.9"/>
<line x1="346.69" y1="293.00" x2="567.01" y2="293.00" stroke="#fafafa" stroke-width="0.9"/>
<g clip-path="url(#clip505)" fill="none" stroke-linejoin="miter">
<path d="M356.70,505.50 L356.70,309.36 L359.30,309.36 L359.30,301.93 L366.92,301.93 L366.92,293.00 L557.00,293.00" stroke="#EC6B5E" stroke-width="2.4"/>
<path d="M356.70,505.50 L356.70,306.60 L386.54,306.60 L386.54,302.77 L416.79,302.77 L416.79,296.61 L506.72,296.61 L506.72,293.00 L557.00,293.00" stroke="#22A836" stroke-width="2.4"/>
<path d="M356.70,505.50 L356.70,358.45 L385.34,358.45 L385.34,350.59 L414.19,350.59 L414.19,347.61 L443.83,347.61 L443.43,339.96 L471.27,339.96 L471.27,331.25 L500.32,331.25 L500.32,323.81 L528.56,323.81 L528.56,307.02 L557.00,307.02 L557.00,293.00" stroke="#5F91D0" stroke-width="2.4"/>
<line x1="346.69" y1="514.52" x2="567.01" y2="280.77" stroke="#333" stroke-width="1.2"/>
</g>
<line x1="344.80" y1="505.50" x2="346.69" y2="505.50" stroke="#333" stroke-width="0.7"/>
<text x="344.40" y="508.20" font-size="7.6" text-anchor="end" fill="#4d4d4d" textLength="3.40" lengthAdjust="spacingAndGlyphs">0</text>
<line x1="356.70" y1="516.12" x2="356.70" y2="518.12" stroke="#333" stroke-width="0.7"/>
<text x="356.70" y="525.70" font-size="7.6" text-anchor="middle" fill="#4d4d4d" textLength="3.20" lengthAdjust="spacingAndGlyphs">0</text>
<line x1="344.80" y1="484.25" x2="346.69" y2="484.25" stroke="#333" stroke-width="0.7"/>
<text x="344.40" y="486.95" font-size="7.6" text-anchor="end" fill="#4d4d4d" textLength="6.20" lengthAdjust="spacingAndGlyphs">10</text>
<line x1="376.73" y1="516.12" x2="376.73" y2="518.12" stroke="#333" stroke-width="0.7"/>
<text x="376.73" y="525.70" font-size="7.6" text-anchor="middle" fill="#4d4d4d" textLength="6.10" lengthAdjust="spacingAndGlyphs">10</text>
<line x1="344.80" y1="463.00" x2="346.69" y2="463.00" stroke="#333" stroke-width="0.7"/>
<text x="344.40" y="465.70" font-size="7.6" text-anchor="end" fill="#4d4d4d" textLength="6.20" lengthAdjust="spacingAndGlyphs">20</text>
<line x1="396.76" y1="516.12" x2="396.76" y2="518.12" stroke="#333" stroke-width="0.7"/>
<text x="396.76" y="525.70" font-size="7.6" text-anchor="middle" fill="#4d4d4d" textLength="6.10" lengthAdjust="spacingAndGlyphs">20</text>
<line x1="344.80" y1="441.75" x2="346.69" y2="441.75" stroke="#333" stroke-width="0.7"/>
<text x="344.40" y="444.45" font-size="7.6" text-anchor="end" fill="#4d4d4d" textLength="6.20" lengthAdjust="spacingAndGlyphs">30</text>
<line x1="416.79" y1="516.12" x2="416.79" y2="518.12" stroke="#333" stroke-width="0.7"/>
<text x="416.79" y="525.70" font-size="7.6" text-anchor="middle" fill="#4d4d4d" textLength="6.10" lengthAdjust="spacingAndGlyphs">30</text>
<line x1="344.80" y1="420.50" x2="346.69" y2="420.50" stroke="#333" stroke-width="0.7"/>
<text x="344.40" y="423.20" font-size="7.6" text-anchor="end" fill="#4d4d4d" textLength="6.20" lengthAdjust="spacingAndGlyphs">40</text>
<line x1="436.82" y1="516.12" x2="436.82" y2="518.12" stroke="#333" stroke-width="0.7"/>
<text x="436.82" y="525.70" font-size="7.6" text-anchor="middle" fill="#4d4d4d" textLength="6.10" lengthAdjust="spacingAndGlyphs">40</text>
<line x1="344.80" y1="399.25" x2="346.69" y2="399.25" stroke="#333" stroke-width="0.7"/>
<text x="344.40" y="401.95" font-size="7.6" text-anchor="end" fill="#4d4d4d" textLength="6.20" lengthAdjust="spacingAndGlyphs">50</text>
<line x1="456.85" y1="516.12" x2="456.85" y2="518.12" stroke="#333" stroke-width="0.7"/>
<text x="456.85" y="525.70" font-size="7.6" text-anchor="middle" fill="#4d4d4d" textLength="6.10" lengthAdjust="spacingAndGlyphs">50</text>
<line x1="344.80" y1="378.00" x2="346.69" y2="378.00" stroke="#333" stroke-width="0.7"/>
<text x="344.40" y="380.70" font-size="7.6" text-anchor="end" fill="#4d4d4d" textLength="6.20" lengthAdjust="spacingAndGlyphs">60</text>
<line x1="476.88" y1="516.12" x2="476.88" y2="518.12" stroke="#333" stroke-width="0.7"/>
<text x="476.88" y="525.70" font-size="7.6" text-anchor="middle" fill="#4d4d4d" textLength="6.10" lengthAdjust="spacingAndGlyphs">60</text>
<line x1="344.80" y1="356.75" x2="346.69" y2="356.75" stroke="#333" stroke-width="0.7"/>
<text x="344.40" y="359.45" font-size="7.6" text-anchor="end" fill="#4d4d4d" textLength="6.20" lengthAdjust="spacingAndGlyphs">70</text>
<line x1="496.91" y1="516.12" x2="496.91" y2="518.12" stroke="#333" stroke-width="0.7"/>
<text x="496.91" y="525.70" font-size="7.6" text-anchor="middle" fill="#4d4d4d" textLength="6.10" lengthAdjust="spacingAndGlyphs">70</text>
<line x1="344.80" y1="335.50" x2="346.69" y2="335.50" stroke="#333" stroke-width="0.7"/>
<text x="344.40" y="338.20" font-size="7.6" text-anchor="end" fill="#4d4d4d" textLength="6.20" lengthAdjust="spacingAndGlyphs">80</text>
<line x1="516.94" y1="516.12" x2="516.94" y2="518.12" stroke="#333" stroke-width="0.7"/>
<text x="516.94" y="525.70" font-size="7.6" text-anchor="middle" fill="#4d4d4d" textLength="6.10" lengthAdjust="spacingAndGlyphs">80</text>
<line x1="344.80" y1="314.25" x2="346.69" y2="314.25" stroke="#333" stroke-width="0.7"/>
<text x="344.40" y="316.95" font-size="7.6" text-anchor="end" fill="#4d4d4d" textLength="6.20" lengthAdjust="spacingAndGlyphs">90</text>
<line x1="536.97" y1="516.12" x2="536.97" y2="518.12" stroke="#333" stroke-width="0.7"/>
<text x="536.97" y="525.70" font-size="7.6" text-anchor="middle" fill="#4d4d4d" textLength="6.10" lengthAdjust="spacingAndGlyphs">90</text>
<line x1="344.80" y1="293.00" x2="346.69" y2="293.00" stroke="#333" stroke-width="0.7"/>
<text x="344.40" y="295.70" font-size="7.6" text-anchor="end" fill="#4d4d4d" textLength="10.00" lengthAdjust="spacingAndGlyphs">100</text>
<line x1="557.00" y1="516.12" x2="557.00" y2="518.12" stroke="#333" stroke-width="0.7"/>
<text x="557.00" y="525.70" font-size="7.6" text-anchor="middle" fill="#4d4d4d" textLength="9.40" lengthAdjust="spacingAndGlyphs">100</text>
<text x="392.30" y="276.60" font-size="9.4" text-anchor="start" fill="#111" font-weight="bold" textLength="122.60" lengthAdjust="spacingAndGlyphs">ROC Curve Using Comp(s):  2</text>
<text x="424.00" y="536.50" font-size="8.3" text-anchor="start" fill="#111" textLength="67.20" lengthAdjust="spacingAndGlyphs">100 − Specificity (%)</text>
<text x="331.00" y="399.70" font-size="8.3" text-anchor="middle" fill="#111" textLength="60.00" lengthAdjust="spacingAndGlyphs" transform="rotate(-90 331.00 399.70)">Sensitivity (%)</text>
<text x="578.70" y="346.60" font-size="10.0" text-anchor="start" fill="#111" font-weight="bold" textLength="40.30" lengthAdjust="spacingAndGlyphs">Outcome</text>
<rect x="578.70" y="354.20" width="28.00" height="108.10" fill="#F2F2F2"/>
<line x1="581.10" y1="372.00" x2="603.50" y2="372.00" stroke="#EC6B5E" stroke-width="2.1"/>
<text x="610.90" y="374.20" font-size="6.6" text-anchor="start" fill="#222" textLength="64.80" lengthAdjust="spacingAndGlyphs">AMI vs Other(s): 0.9974</text>
<line x1="581.10" y1="408.30" x2="603.50" y2="408.30" stroke="#22A836" stroke-width="2.1"/>
<text x="610.90" y="410.50" font-size="6.6" text-anchor="start" fill="#222" textLength="71.10" lengthAdjust="spacingAndGlyphs">Control vs Other(s): 0.9769</text>
<line x1="581.10" y1="444.80" x2="603.50" y2="444.80" stroke="#5F91D0" stroke-width="2.1"/>
<text x="610.90" y="447.00" font-size="6.6" text-anchor="start" fill="#222" textLength="66.00" lengthAdjust="spacingAndGlyphs">Treat vs Other(s): 0.7949</text>
<clipPath id="clipC"><rect x="30.70" y="593.40" width="566.70" height="318.10"/></clipPath>
<rect x="30.70" y="593.40" width="566.70" height="318.10" fill="#EAF1F8"/>
<g clip-path="url(#clipC)">
<polygon points="30.7,694.0 46.7,702.9 51.4,705.2 59.5,706.4 74.7,715.0 84.1,717.4 91.1,720.9 102.7,726.7 108.6,727.9 121.4,734.9 131.9,737.9 144.8,744.2 155.3,748.4 168.2,753.6 180.0,756.4 196.4,764.5 203.4,766.2 217.4,773.9 231.4,780.9 244.2,785.5 252.4,786.7 264.1,792.6 278.1,800.3 292.1,806.6 306.1,813.6 320.2,820.6 331.8,827.6 338.2,833.5 346.3,840.7 350.4,842.7 362.7,850.9 372.9,859.0 383.1,866.2 393.4,875.0 403.6,881.5 417.9,891.7 430.1,899.9 440.4,906.1 443.4,910.1 446.0,912.0 30.7,913.5 28.7,913.5 28.7,694.0" fill="#F8F8F8"/>
<polygon points="30.7,747.5 42.0,753.6 45.5,757.1 58.4,764.1 65.4,769.9 68.2,772.3 77.0,778.1 80.4,782.5 92.7,793.7 100.9,799.9 113.1,808.0 121.3,814.2 133.6,821.3 145.8,829.5 158.1,836.6 170.4,843.8 182.6,849.9 190.0,852.3 202.3,859.4 210.4,863.5 216.6,865.5 230.9,873.7 243.1,876.8 251.3,880.9 259.5,882.9 271.7,888.0 284.0,892.1 290.0,893.5 301.7,899.2 308.7,899.8 314.5,902.1 321.5,902.7 330.9,909.1 336.7,909.7 341.0,912.0 28.7,913.5 28.7,747.5" fill="#FDF1E7"/>
<line x1="113.43" y1="593.4" x2="113.43" y2="911.5" stroke="#1a2a3a" stroke-width="1.0" stroke-opacity="0.065"/>
<line x1="244.68" y1="593.4" x2="244.68" y2="911.5" stroke="#1a2a3a" stroke-width="1.0" stroke-opacity="0.065"/>
<line x1="375.93" y1="593.4" x2="375.93" y2="911.5" stroke="#1a2a3a" stroke-width="1.0" stroke-opacity="0.065"/>
<line x1="507.18" y1="593.4" x2="507.18" y2="911.5" stroke="#1a2a3a" stroke-width="1.0" stroke-opacity="0.065"/>
<line x1="47.80" y1="593.4" x2="47.80" y2="911.5" stroke="#1a2a3a" stroke-width="1.0" stroke-opacity="0.065"/>
<line x1="179.05" y1="593.4" x2="179.05" y2="911.5" stroke="#1a2a3a" stroke-width="1.0" stroke-opacity="0.065"/>
<line x1="310.30" y1="593.4" x2="310.30" y2="911.5" stroke="#1a2a3a" stroke-width="1.0" stroke-opacity="0.065"/>
<line x1="441.55" y1="593.4" x2="441.55" y2="911.5" stroke="#1a2a3a" stroke-width="1.0" stroke-opacity="0.065"/>
<line x1="572.80" y1="593.4" x2="572.80" y2="911.5" stroke="#1a2a3a" stroke-width="1.0" stroke-opacity="0.065"/>
<line x1="30.7" y1="881.30" x2="597.4" y2="881.30" stroke="#1a2a3a" stroke-width="1.0" stroke-opacity="0.065"/>
<line x1="30.7" y1="840.75" x2="597.4" y2="840.75" stroke="#1a2a3a" stroke-width="1.0" stroke-opacity="0.065"/>
<line x1="30.7" y1="800.20" x2="597.4" y2="800.20" stroke="#1a2a3a" stroke-width="1.0" stroke-opacity="0.065"/>
<line x1="30.7" y1="759.65" x2="597.4" y2="759.65" stroke="#1a2a3a" stroke-width="1.0" stroke-opacity="0.065"/>
<line x1="30.7" y1="719.10" x2="597.4" y2="719.10" stroke="#1a2a3a" stroke-width="1.0" stroke-opacity="0.065"/>
<line x1="30.7" y1="678.55" x2="597.4" y2="678.55" stroke="#1a2a3a" stroke-width="1.0" stroke-opacity="0.065"/>
<line x1="30.7" y1="638.00" x2="597.4" y2="638.00" stroke="#1a2a3a" stroke-width="1.0" stroke-opacity="0.065"/>
<line x1="30.7" y1="597.45" x2="597.4" y2="597.45" stroke="#1a2a3a" stroke-width="1.0" stroke-opacity="0.065"/>
<polyline points="30.7,694.0 46.7,702.9 51.4,705.2 59.5,706.4 74.7,715.0 84.1,717.4 91.1,720.9 102.7,726.7 108.6,727.9 121.4,734.9 131.9,737.9 144.8,744.2 155.3,748.4 168.2,753.6 180.0,756.4 196.4,764.5 203.4,766.2 217.4,773.9 231.4,780.9 244.2,785.5 252.4,786.7 264.1,792.6 278.1,800.3 292.1,806.6 306.1,813.6 320.2,820.6 331.8,827.6 338.2,833.5 346.3,840.7 350.4,842.7 362.7,850.9 372.9,859.0 383.1,866.2 393.4,875.0 403.6,881.5 417.9,891.7 430.1,899.9 440.4,906.1 443.4,910.1 446.0,912.0" fill="none" stroke="#fff" stroke-width="1.6"/>
<polyline points="30.7,747.5 42.0,753.6 45.5,757.1 58.4,764.1 65.4,769.9 68.2,772.3 77.0,778.1 80.4,782.5 92.7,793.7 100.9,799.9 113.1,808.0 121.3,814.2 133.6,821.3 145.8,829.5 158.1,836.6 170.4,843.8 182.6,849.9 190.0,852.3 202.3,859.4 210.4,863.5 216.6,865.5 230.9,873.7 243.1,876.8 251.3,880.9 259.5,882.9 271.7,888.0 284.0,892.1 290.0,893.5 301.7,899.2 308.7,899.8 314.5,902.1 321.5,902.7 330.9,909.1 336.7,909.7 341.0,912.0" fill="none" stroke="#fff" stroke-width="1.6"/>
</g>
<rect x="30.70" y="569.20" width="566.70" height="24.20" fill="#D9D9D9" stroke="#555" stroke-width="1.2"/>
<rect x="30.70" y="593.40" width="566.70" height="318.10" fill="none" stroke="#555" stroke-width="1.2"/>
<text x="281.30" y="586.80" font-size="15.5" text-anchor="start" fill="#1a1a1a" font-weight="bold" textLength="74.50" lengthAdjust="spacingAndGlyphs">sPLS−DA</text>
<line x1="47.80" y1="911.50" x2="47.80" y2="914.70" stroke="#444" stroke-width="1.1"/>
<text x="47.80" y="925.30" font-size="9.6" text-anchor="middle" fill="#4d4d4d" textLength="9.20" lengthAdjust="spacingAndGlyphs">−6</text>
<line x1="179.05" y1="911.50" x2="179.05" y2="914.70" stroke="#444" stroke-width="1.1"/>
<text x="179.05" y="925.30" font-size="9.6" text-anchor="middle" fill="#4d4d4d" textLength="9.20" lengthAdjust="spacingAndGlyphs">−3</text>
<line x1="310.30" y1="911.50" x2="310.30" y2="914.70" stroke="#444" stroke-width="1.1"/>
<text x="310.30" y="925.30" font-size="9.6" text-anchor="middle" fill="#4d4d4d" textLength="4.60" lengthAdjust="spacingAndGlyphs">0</text>
<line x1="441.55" y1="911.50" x2="441.55" y2="914.70" stroke="#444" stroke-width="1.1"/>
<text x="441.55" y="925.30" font-size="9.6" text-anchor="middle" fill="#4d4d4d" textLength="4.60" lengthAdjust="spacingAndGlyphs">3</text>
<line x1="572.80" y1="911.50" x2="572.80" y2="914.70" stroke="#444" stroke-width="1.1"/>
<text x="572.80" y="925.30" font-size="9.6" text-anchor="middle" fill="#4d4d4d" textLength="4.60" lengthAdjust="spacingAndGlyphs">6</text>
<line x1="27.20" y1="881.30" x2="30.70" y2="881.30" stroke="#444" stroke-width="1.1"/>
<text x="25.50" y="884.80" font-size="9.6" text-anchor="end" fill="#4d4d4d" textLength="9.30" lengthAdjust="spacingAndGlyphs">−5</text>
<line x1="27.20" y1="800.20" x2="30.70" y2="800.20" stroke="#444" stroke-width="1.1"/>
<text x="25.50" y="803.70" font-size="9.6" text-anchor="end" fill="#4d4d4d" textLength="4.60" lengthAdjust="spacingAndGlyphs">0</text>
<line x1="27.20" y1="719.10" x2="30.70" y2="719.10" stroke="#444" stroke-width="1.1"/>
<text x="25.50" y="722.60" font-size="9.6" text-anchor="end" fill="#4d4d4d" textLength="4.60" lengthAdjust="spacingAndGlyphs">5</text>
<line x1="27.20" y1="638.00" x2="30.70" y2="638.00" stroke="#444" stroke-width="1.1"/>
<text x="25.50" y="641.50" font-size="9.6" text-anchor="end" fill="#4d4d4d" textLength="9.30" lengthAdjust="spacingAndGlyphs">10</text>
<text x="251.20" y="937.00" font-size="11.0" text-anchor="start" fill="#111" textLength="125.20" lengthAdjust="spacingAndGlyphs" stroke="#111" stroke-width="0.2">X−variate 1: 17% expl. var</text>
<text x="10.30" y="751.80" font-size="11.0" text-anchor="middle" fill="#111" textLength="126.50" lengthAdjust="spacingAndGlyphs" transform="rotate(-90 10.30 751.80)" stroke="#111" stroke-width="0.2">X−variate 2: 10% expl. var</text>
<text x="613.90" y="729.20" font-size="11.5" text-anchor="start" fill="#111" textLength="30.50" lengthAdjust="spacingAndGlyphs">group</text>
<circle cx="622.7" cy="744.90" r="4.3" fill="#388ECC"/>
<text x="637.20" y="748.70" font-size="10.5" text-anchor="start" fill="#111">AMI</text>
<circle cx="622.7" cy="761.85" r="4.3" fill="#F68B33"/>
<text x="637.20" y="765.65" font-size="10.5" text-anchor="start" fill="#111">Control</text>
<circle cx="622.7" cy="778.80" r="4.3" fill="#C2C2C2"/>
<text x="637.20" y="782.60" font-size="10.5" text-anchor="start" fill="#111">Treat</text>
<g stroke="#3A8DCB" stroke-width="0.15">
<text x="86.50" y="618.20" font-size="9.8" text-anchor="middle" fill="#3A8DCB" textLength="9.37" lengthAdjust="spacingAndGlyphs">36</text>
<text x="98.20" y="636.40" font-size="9.8" text-anchor="middle" fill="#3A8DCB" textLength="9.37" lengthAdjust="spacingAndGlyphs">35</text>
<text x="140.30" y="611.20" font-size="9.8" text-anchor="middle" fill="#3A8DCB" textLength="9.37" lengthAdjust="spacingAndGlyphs">56</text>
<text x="153.30" y="657.90" font-size="9.8" text-anchor="middle" fill="#3A8DCB" textLength="9.37" lengthAdjust="spacingAndGlyphs">40</text>
<text x="206.10" y="642.30" font-size="9.8" text-anchor="middle" fill="#3A8DCB" textLength="9.37" lengthAdjust="spacingAndGlyphs">41</text>
<text x="242.30" y="650.40" font-size="9.8" text-anchor="middle" fill="#3A8DCB" textLength="9.37" lengthAdjust="spacingAndGlyphs">34</text>
<text x="217.00" y="687.10" font-size="9.8" text-anchor="middle" fill="#3A8DCB" textLength="9.37" lengthAdjust="spacingAndGlyphs">69</text>
<text x="172.20" y="697.60" font-size="9.8" text-anchor="middle" fill="#3A8DCB" textLength="9.37" lengthAdjust="spacingAndGlyphs">44</text>
<text x="293.80" y="711.70" font-size="9.8" text-anchor="middle" fill="#3A8DCB" textLength="9.37" lengthAdjust="spacingAndGlyphs">76</text>
<text x="327.40" y="734.50" font-size="9.8" text-anchor="middle" fill="#3A8DCB" textLength="9.37" lengthAdjust="spacingAndGlyphs">74</text>
<text x="326.90" y="765.60" font-size="9.8" text-anchor="middle" fill="#3A8DCB" textLength="9.37" lengthAdjust="spacingAndGlyphs">27</text>
<text x="322.30" y="777.40" font-size="9.8" text-anchor="middle" fill="#3A8DCB" textLength="9.37" lengthAdjust="spacingAndGlyphs">47</text>
<text x="401.70" y="770.70" font-size="9.8" text-anchor="middle" fill="#3A8DCB" textLength="9.37" lengthAdjust="spacingAndGlyphs">46</text>
<text x="451.00" y="767.50" font-size="9.8" text-anchor="middle" fill="#3A8DCB" textLength="9.37" lengthAdjust="spacingAndGlyphs">70</text>
<text x="259.90" y="763.30" font-size="9.8" text-anchor="middle" fill="#3A8DCB" textLength="9.37" lengthAdjust="spacingAndGlyphs">39</text>
<text x="216.80" y="774.50" font-size="9.8" text-anchor="middle" fill="#3A8DCB" textLength="9.37" lengthAdjust="spacingAndGlyphs">37</text>
<text x="320.10" y="790.00" font-size="9.8" text-anchor="middle" fill="#3A8DCB" textLength="9.37" lengthAdjust="spacingAndGlyphs">61</text>
<text x="305.80" y="803.70" font-size="9.8" text-anchor="middle" fill="#3A8DCB" textLength="9.37" lengthAdjust="spacingAndGlyphs">24</text>
<text x="349.20" y="801.90" font-size="9.8" text-anchor="middle" fill="#3A8DCB" textLength="9.37" lengthAdjust="spacingAndGlyphs">26</text>
<text x="355.20" y="809.80" font-size="9.8" text-anchor="middle" fill="#3A8DCB" textLength="9.37" lengthAdjust="spacingAndGlyphs">77</text>
<text x="389.00" y="793.50" font-size="9.8" text-anchor="middle" fill="#3A8DCB" textLength="9.37" lengthAdjust="spacingAndGlyphs">62</text>
<text x="372.30" y="826.10" font-size="9.8" text-anchor="middle" fill="#3A8DCB" textLength="9.37" lengthAdjust="spacingAndGlyphs">42</text>
<text x="386.90" y="845.70" font-size="9.8" text-anchor="middle" fill="#3A8DCB" textLength="9.37" lengthAdjust="spacingAndGlyphs">50</text>
<text x="325.90" y="828.20" font-size="9.8" text-anchor="middle" fill="#3A8DCB" textLength="9.37" lengthAdjust="spacingAndGlyphs">43</text>
<text x="325.00" y="834.70" font-size="9.8" text-anchor="middle" fill="#3A8DCB" textLength="9.37" lengthAdjust="spacingAndGlyphs">64</text>
<text x="331.20" y="833.40" font-size="9.8" text-anchor="middle" fill="#3A8DCB" textLength="9.37" lengthAdjust="spacingAndGlyphs">28</text>
<text x="227.70" y="811.00" font-size="9.8" text-anchor="middle" fill="#3A8DCB" textLength="9.37" lengthAdjust="spacingAndGlyphs">66</text>
<text x="255.80" y="814.20" font-size="9.8" text-anchor="middle" fill="#3A8DCB" textLength="9.37" lengthAdjust="spacingAndGlyphs">36</text>
<text x="270.60" y="823.80" font-size="9.8" text-anchor="middle" fill="#3A8DCB" textLength="9.37" lengthAdjust="spacingAndGlyphs">33</text>
<text x="571.90" y="785.80" font-size="9.8" text-anchor="middle" fill="#3A8DCB" textLength="9.37" lengthAdjust="spacingAndGlyphs">22</text>
<text x="532.00" y="782.60" font-size="9.8" text-anchor="middle" fill="#3A8DCB" textLength="9.37" lengthAdjust="spacingAndGlyphs">66</text>
<text x="536.80" y="787.00" font-size="9.8" text-anchor="middle" fill="#3A8DCB" textLength="9.37" lengthAdjust="spacingAndGlyphs">71</text>
<text x="512.00" y="787.00" font-size="9.8" text-anchor="middle" fill="#3A8DCB" textLength="9.37" lengthAdjust="spacingAndGlyphs">78</text>
<text x="517.10" y="787.00" font-size="9.8" text-anchor="middle" fill="#3A8DCB" textLength="9.37" lengthAdjust="spacingAndGlyphs">39</text>
<text x="522.20" y="786.70" font-size="9.8" text-anchor="middle" fill="#3A8DCB" textLength="9.37" lengthAdjust="spacingAndGlyphs">29</text>
<text x="512.70" y="789.60" font-size="9.8" text-anchor="middle" fill="#3A8DCB" textLength="9.37" lengthAdjust="spacingAndGlyphs">68</text>
<text x="524.70" y="793.50" font-size="9.8" text-anchor="middle" fill="#3A8DCB" textLength="9.37" lengthAdjust="spacingAndGlyphs">88</text>
<text x="495.20" y="798.70" font-size="9.8" text-anchor="middle" fill="#3A8DCB" textLength="9.37" lengthAdjust="spacingAndGlyphs">52</text>
<text x="504.70" y="797.90" font-size="9.8" text-anchor="middle" fill="#3A8DCB" textLength="9.37" lengthAdjust="spacingAndGlyphs">57</text>
<text x="505.40" y="799.80" font-size="9.8" text-anchor="middle" fill="#3A8DCB" textLength="9.37" lengthAdjust="spacingAndGlyphs">48</text>
<text x="459.00" y="792.90" font-size="9.8" text-anchor="middle" fill="#3A8DCB" textLength="9.37" lengthAdjust="spacingAndGlyphs">51</text>
<text x="447.90" y="797.60" font-size="9.8" text-anchor="middle" fill="#3A8DCB" textLength="9.37" lengthAdjust="spacingAndGlyphs">55</text>
<text x="471.80" y="793.50" font-size="9.8" text-anchor="middle" fill="#3A8DCB" textLength="9.37" lengthAdjust="spacingAndGlyphs">68</text>
<text x="473.60" y="800.50" font-size="9.8" text-anchor="middle" fill="#3A8DCB" textLength="9.37" lengthAdjust="spacingAndGlyphs">60</text>
<text x="480.20" y="804.90" font-size="9.8" text-anchor="middle" fill="#3A8DCB" textLength="9.37" lengthAdjust="spacingAndGlyphs">49</text>
<text x="466.00" y="807.50" font-size="9.8" text-anchor="middle" fill="#3A8DCB" textLength="9.37" lengthAdjust="spacingAndGlyphs">30</text>
<text x="453.70" y="807.50" font-size="9.8" text-anchor="middle" fill="#3A8DCB" textLength="9.37" lengthAdjust="spacingAndGlyphs">76</text>
<text x="437.40" y="805.80" font-size="9.8" text-anchor="middle" fill="#3A8DCB" textLength="9.37" lengthAdjust="spacingAndGlyphs">21</text>
<text x="436.20" y="813.10" font-size="9.8" text-anchor="middle" fill="#3A8DCB" textLength="9.37" lengthAdjust="spacingAndGlyphs">23</text>
<text x="412.80" y="814.80" font-size="9.8" text-anchor="middle" fill="#3A8DCB" textLength="9.37" lengthAdjust="spacingAndGlyphs">75</text>
<text x="418.10" y="811.60" font-size="9.8" text-anchor="middle" fill="#3A8DCB" textLength="9.37" lengthAdjust="spacingAndGlyphs">58</text>
<text x="452.00" y="815.50" font-size="9.8" text-anchor="middle" fill="#3A8DCB" textLength="9.37" lengthAdjust="spacingAndGlyphs">53</text>
<text x="455.00" y="817.50" font-size="9.8" text-anchor="middle" fill="#3A8DCB" textLength="9.37" lengthAdjust="spacingAndGlyphs">58</text>
<text x="458.00" y="820.50" font-size="9.8" text-anchor="middle" fill="#3A8DCB" textLength="9.37" lengthAdjust="spacingAndGlyphs">29</text>
<text x="461.50" y="820.50" font-size="9.8" text-anchor="middle" fill="#3A8DCB" textLength="9.37" lengthAdjust="spacingAndGlyphs">59</text>
<text x="423.40" y="844.40" font-size="9.8" text-anchor="middle" fill="#3A8DCB" textLength="9.37" lengthAdjust="spacingAndGlyphs">32</text>
<text x="429.20" y="845.50" font-size="9.8" text-anchor="middle" fill="#3A8DCB" textLength="9.37" lengthAdjust="spacingAndGlyphs">31</text>
<text x="464.80" y="842.20" font-size="9.8" text-anchor="middle" fill="#3A8DCB" textLength="9.37" lengthAdjust="spacingAndGlyphs">26</text>
</g>
<g stroke="#F08A36" stroke-width="0.15">
<text x="56.00" y="739.50" font-size="9.8" text-anchor="middle" fill="#F08A36" textLength="9.37" lengthAdjust="spacingAndGlyphs">17</text>
<text x="81.90" y="828.70" font-size="9.8" text-anchor="middle" fill="#F08A36" textLength="9.37" lengthAdjust="spacingAndGlyphs">11</text>
<text x="102.30" y="836.90" font-size="9.8" text-anchor="middle" fill="#F08A36" textLength="9.37" lengthAdjust="spacingAndGlyphs">16</text>
<text x="133.00" y="828.90" font-size="9.8" text-anchor="middle" fill="#F08A36" textLength="4.69" lengthAdjust="spacingAndGlyphs">7</text>
<text x="121.30" y="849.80" font-size="9.8" text-anchor="middle" fill="#F08A36" textLength="4.69" lengthAdjust="spacingAndGlyphs">5</text>
<text x="118.20" y="858.00" font-size="9.8" text-anchor="middle" fill="#F08A36" textLength="9.37" lengthAdjust="spacingAndGlyphs">14</text>
<text x="125.00" y="855.50" font-size="9.8" text-anchor="middle" fill="#F08A36" textLength="4.69" lengthAdjust="spacingAndGlyphs">1</text>
<text x="142.80" y="854.50" font-size="9.8" text-anchor="middle" fill="#F08A36" textLength="9.37" lengthAdjust="spacingAndGlyphs">13</text>
<text x="167.70" y="854.90" font-size="9.8" text-anchor="middle" fill="#F08A36" textLength="4.69" lengthAdjust="spacingAndGlyphs">4</text>
<text x="161.20" y="862.00" font-size="9.8" text-anchor="middle" fill="#F08A36" textLength="9.37" lengthAdjust="spacingAndGlyphs">15</text>
<text x="183.60" y="870.80" font-size="9.8" text-anchor="middle" fill="#F08A36" textLength="9.37" lengthAdjust="spacingAndGlyphs">12</text>
<text x="113.80" y="876.00" font-size="9.8" text-anchor="middle" fill="#F08A36" textLength="4.69" lengthAdjust="spacingAndGlyphs">6</text>
<text x="145.40" y="886.60" font-size="9.8" text-anchor="middle" fill="#F08A36" textLength="9.37" lengthAdjust="spacingAndGlyphs">10</text>
<text x="147.50" y="896.80" font-size="9.8" text-anchor="middle" fill="#F08A36" textLength="9.37" lengthAdjust="spacingAndGlyphs">20</text>
<text x="148.00" y="896.80" font-size="9.8" text-anchor="middle" fill="#F08A36" textLength="9.37" lengthAdjust="spacingAndGlyphs">29</text>
<text x="222.10" y="832.30" font-size="9.8" text-anchor="middle" fill="#F08A36" textLength="4.69" lengthAdjust="spacingAndGlyphs">9</text>
<text x="270.10" y="866.50" font-size="9.8" text-anchor="middle" fill="#F08A36" textLength="4.69" lengthAdjust="spacingAndGlyphs">2</text>
<text x="228.80" y="883.90" font-size="9.8" text-anchor="middle" fill="#F08A36" textLength="9.37" lengthAdjust="spacingAndGlyphs">16</text>
<text x="207.40" y="901.80" font-size="9.8" text-anchor="middle" fill="#F08A36" textLength="4.69" lengthAdjust="spacingAndGlyphs">8</text>
</g>
<g stroke="#BDBDBD" stroke-width="0.15">
<text x="88.60" y="783.40" font-size="9.8" text-anchor="middle" fill="#BDBDBD" textLength="9.37" lengthAdjust="spacingAndGlyphs">86</text>
<text x="88.60" y="821.80" font-size="9.8" text-anchor="middle" fill="#BDBDBD" textLength="9.37" lengthAdjust="spacingAndGlyphs">81</text>
<text x="127.40" y="871.20" font-size="9.8" text-anchor="middle" fill="#BDBDBD" textLength="9.37" lengthAdjust="spacingAndGlyphs">83</text>
<text x="171.40" y="860.60" font-size="9.8" text-anchor="middle" fill="#BDBDBD" textLength="9.37" lengthAdjust="spacingAndGlyphs">84</text>
<text x="265.50" y="829.10" font-size="9.8" text-anchor="middle" fill="#BDBDBD" textLength="9.37" lengthAdjust="spacingAndGlyphs">80</text>
<text x="312.40" y="829.90" font-size="9.8" text-anchor="middle" fill="#BDBDBD" textLength="9.37" lengthAdjust="spacingAndGlyphs">82</text>
<text x="309.20" y="864.40" font-size="9.8" text-anchor="middle" fill="#BDBDBD" textLength="9.37" lengthAdjust="spacingAndGlyphs">79</text>
</g>
</svg>
</body></html>
